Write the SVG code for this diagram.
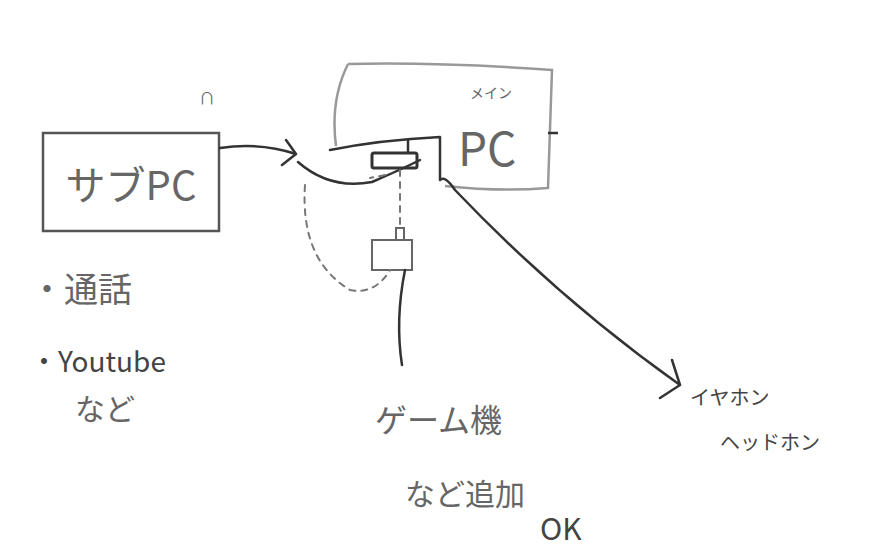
<svg xmlns="http://www.w3.org/2000/svg" width="891" height="560" viewBox="0 0 891 560">
<style>
.t{font-family:"Noto Sans CJK JP","Noto Sans",sans-serif;fill:#666}
.b{font-family:"Noto Sans CJK JP","Noto Sans",sans-serif;fill:#444}
.k{fill:none;stroke:#333;stroke-width:2.5;stroke-linecap:round;stroke-linejoin:round}
.g{fill:none;stroke:#777;stroke-width:2;stroke-linecap:round}
</style>
<rect width="891" height="560" fill="#fff"/>
<g id="subpc">
<rect x="43" y="133" width="176" height="98" fill="none" stroke="#555" stroke-width="2.5"/>
<text class="t" x="131" y="200" font-size="40" text-anchor="middle">サブPC</text>
<text class="t" x="207" y="104" font-size="16" text-anchor="middle">∩</text>
<text class="t" x="30" y="302" font-size="34">・通話</text>
<text class="b" x="30" y="372" font-size="28">・Youtube</text>
<text class="t" x="75" y="420" font-size="30">など</text>
</g>
<g id="mainpc">
<path d="M348 64 Q440 62 552 70 L548 188 Q500 192 445 186 M348 64 Q330 100 336 146" fill="none" stroke="#999" stroke-width="2.5"/>
<text class="t" x="470" y="98" font-size="14">メイン</text>
<text class="t" x="458" y="166" font-size="46">PC</text>
<line x1="548" y1="133" x2="558" y2="133" stroke="#333" stroke-width="2.5"/>
</g>
<g id="hub">
<rect x="372" y="153" width="45" height="15" rx="2" fill="none" stroke="#333" stroke-width="3"/>
<rect x="372" y="240" width="40" height="30" fill="none" stroke="#666" stroke-width="2"/>
<rect x="396" y="228" width="8" height="12" fill="none" stroke="#666" stroke-width="2"/>
</g>
<g id="game"><text class="t" x="375" y="432" font-size="32">ゲーム機</text>
<text class="t" x="405" y="505" font-size="30">など追加</text>
<text class="b" x="540" y="540" font-size="30">OK</text></g>
<g id="earphone"><text class="b" x="690" y="405" font-size="20">イヤホン</text>
<text class="b" x="720" y="450" font-size="20">ヘッドホン</text></g>
<g id="connectors">
<path class="k" d="M220 148 Q260 142 296 154 M286 140 L296 154 L282 165"/>
<path class="k" d="M298 162 Q330 190 372 182 Q400 170 420 160 M330 150 Q380 140 440 137 L440 180 Q445 175 455 190 Q560 300 680 385 M660 398 L680 385 L672 360"/>
<path class="k" d="M408 140 L408 153"/>
<path class="g" stroke-dasharray="6,6" d="M400 170 L400 228"/>
<path class="g" stroke-dasharray="6,6" d="M305 185 Q300 260 350 290 Q375 295 390 270 M385 175 L370 178"/>
<path class="k" d="M405 270 Q395 320 402 365"/>
</g>
</svg>
